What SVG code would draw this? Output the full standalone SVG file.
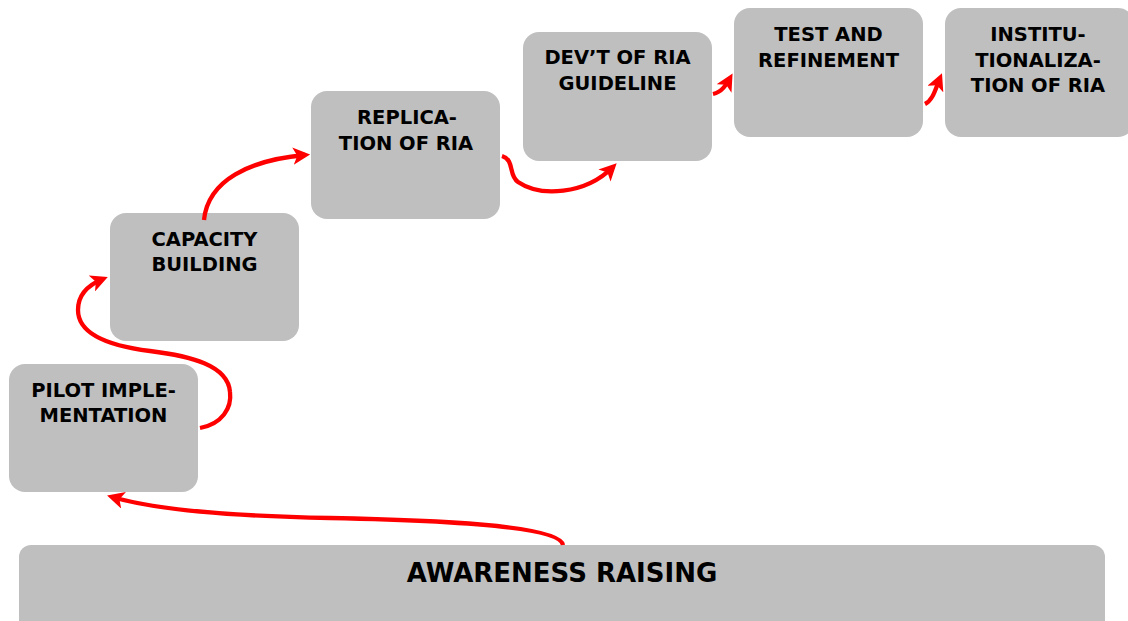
<svg xmlns="http://www.w3.org/2000/svg" width="1128" height="621" viewBox="0 0 1128 621">
<defs>
<style>
.box{fill:#bfbfbf;}
.t{font-family:"DejaVu Sans",sans-serif;font-weight:bold;font-size:19.5px;fill:#000;text-anchor:middle;}
.tb{font-family:"DejaVu Sans",sans-serif;font-weight:bold;font-size:26px;fill:#000;text-anchor:middle;}
.c{fill:none;stroke:#ff0000;stroke-width:4.3;marker-end:url(#ah);}
</style>
<marker id="ah" viewBox="0 0 10 10" refX="7" refY="5" markerWidth="4" markerHeight="4" orient="auto" markerUnits="strokeWidth">
<path d="M0,0 L10,5 L0,10 L2.5,5 z" fill="#ff0000"/>
</marker>
</defs>
<rect width="1128" height="621" fill="#ffffff"/>
<g id="awareness">
<rect class="box" x="19" y="545" width="1086" height="90" rx="12"/>
<text class="tb" x="562" y="582">AWARENESS RAISING</text>
</g>
<g id="pilot">
<rect class="box" x="9" y="364" width="189" height="128" rx="16"/>
<text class="t" x="103.5" y="397">PILOT IMPLE-</text>
<text class="t" x="103.5" y="422">MENTATION</text>
</g>
<g id="capacity">
<rect class="box" x="110" y="213" width="189" height="128" rx="16"/>
<text class="t" x="204.5" y="246">CAPACITY</text>
<text class="t" x="204.5" y="271">BUILDING</text>
</g>
<g id="replication">
<rect class="box" x="311" y="91" width="189" height="128" rx="16"/>
<text class="t" x="407" y="124">REPLICA-</text>
<text class="t" x="406" y="150">TION OF RIA</text>
</g>
<g id="devt">
<rect class="box" x="523" y="32" width="189" height="129" rx="16"/>
<text class="t" x="617.5" y="64">DEV’T OF RIA</text>
<text class="t" x="617.5" y="90">GUIDELINE</text>
</g>
<g id="test">
<rect class="box" x="734" y="8" width="189" height="129" rx="16"/>
<text class="t" x="828.5" y="41">TEST AND</text>
<text class="t" x="828.5" y="67">REFINEMENT</text>
</g>
<g id="instit">
<rect class="box" x="945" y="8" width="189" height="129" rx="16"/>
<text class="t" x="1038" y="41">INSTITU-</text>
<text class="t" x="1038" y="67">TIONALIZA-</text>
<text class="t" x="1038" y="92">TION OF RIA</text>
</g>
<g id="connectors">
<path class="c" d="M563 545 C560 525 430 520 330 518 C220 516 150 508 112 497"/>
<path class="c" d="M200 428 C222 424 232 408 230 392 C228 365 190 356 150 351 C110 346 78 335 78 310 C78 295 88 285 103 279"/>
<path class="c" d="M204 220 C208 180 250 160 305 155"/>
<path class="c" d="M502 156 C515 160 508 175 518 182 C540 197 585 195 613 167"/>
<path class="c" d="M713 94 C722 92 726 85 730 78"/>
<path class="c" d="M925 104 C933 100 935 90 940 78"/>
</g>
</svg>
